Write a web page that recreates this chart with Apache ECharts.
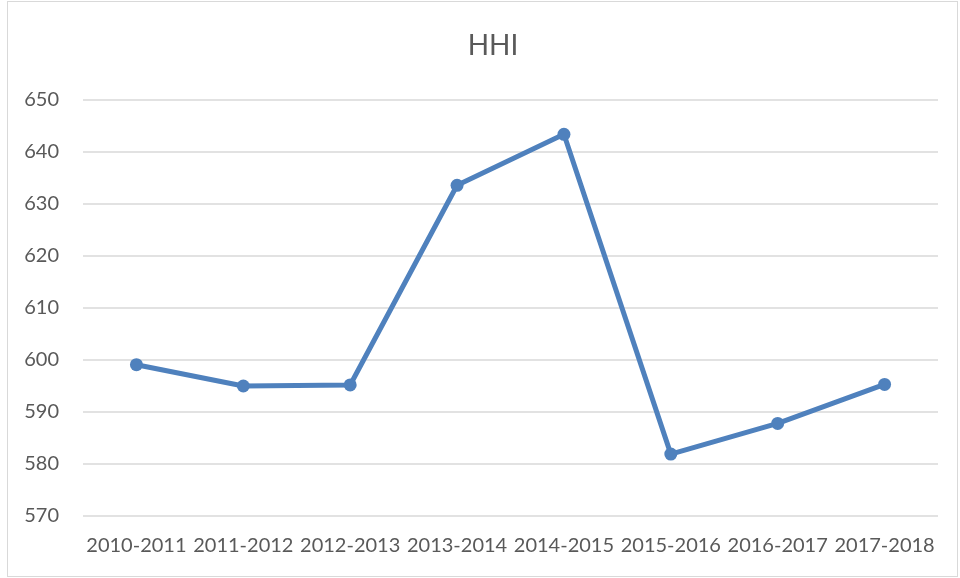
<!DOCTYPE html>
<head>
    <meta charset="utf-8">
    <script type="text/javascript" src="https://cdn.jsdelivr.net/npm/echarts@6/dist/echarts.min.js"></script>
    <style>
        body { margin: 0; background: #fff; }
        #frame { position: absolute; left: 7px; top: 1px; width: 949px; height: 574px; border: 1px solid #d9d9d9; }
        #main { position: absolute; left: 0; top: 0; width: 960px; height: 578px; }
    </style>
</head>
<body>
	<div id="frame"></div>
	<div id="main"></div>
	<script type="text/javascript">
		var years = ["2010-2011", "2011-2012", "2012-2013", "2013-2014", "2014-2015", "2015-2016", "2016-2017", "2017-2018"];
		var hhi = [599.1, 595.0, 595.2, 633.6, 643.4, 581.9, 587.8, 595.3];
		var yTicks = [570, 650, 10]; // min, max, step

		var myChart = echarts.init(document.getElementById('main'));
		var option = {
	        title: {
	            text: 'HHI',
	            left: 488,
	            textAlign: 'center',
	            top: 27,
	            textStyle: { fontFamily: 'Lato', fontSize: 28, fontWeight: 'normal', color: '#595959' }
	        },
	        grid: { left: 83, right: 22, top: 100, bottom: 62 },
	        xAxis: {
	            type: 'category',
	            data: years,
	            axisLine: { show: false },
	            axisTick: { show: false },
	            axisLabel: { fontFamily: 'Lato', fontSize: 20, color: '#595959', margin: 20, interval: 0 }
	        },
	        yAxis: {
	            type: 'value',
	            min: yTicks[0],
	            max: yTicks[1],
	            interval: yTicks[2],
	            axisLine: { show: false },
	            axisTick: { show: false },
	            axisLabel: { fontFamily: 'Lato', fontSize: 20, color: '#595959', margin: 24 },
	            splitLine: { lineStyle: { color: '#d9d9d9', width: 1.5 } }
	        },
	        series: [
	            {
	                type: 'line',
	                data: hhi,
	                symbol: 'circle',
	                symbolSize: 13,
	                itemStyle: { color: '#4f81bd' },
	                lineStyle: { color: '#4f81bd', width: 5 },
	                animation: false
	            }
	        ]
	    };
		myChart.setOption(option);
	</script>
</body>
